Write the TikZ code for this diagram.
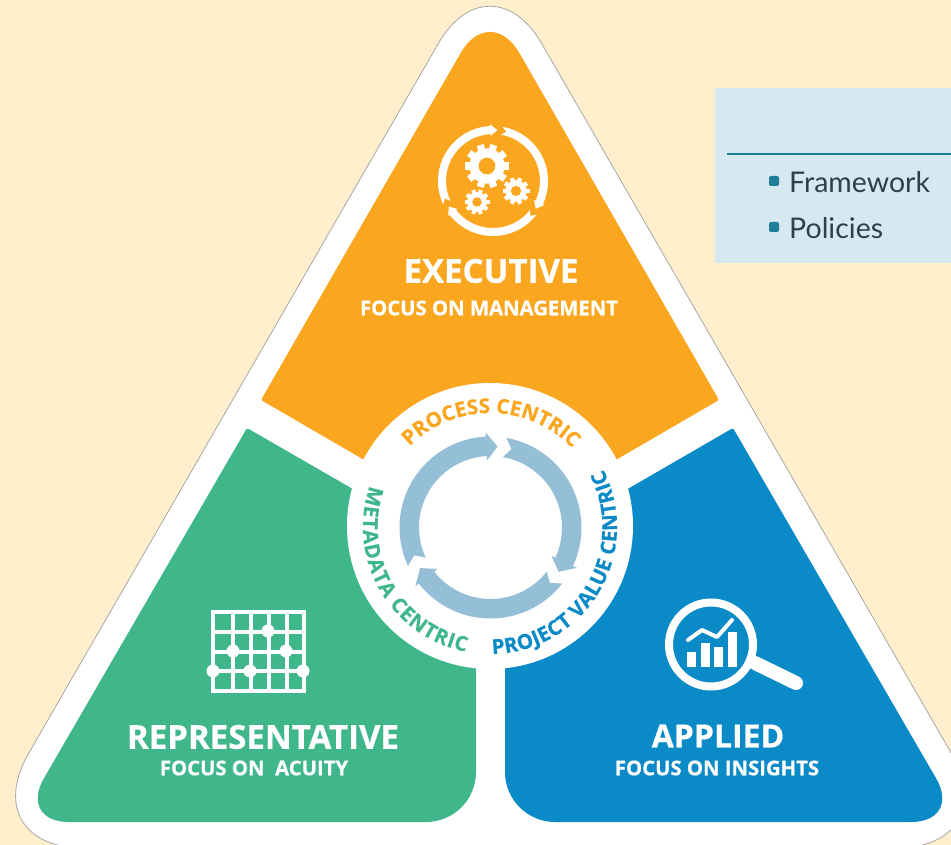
\documentclass[tikz,border=0pt]{standalone}
\usepackage{fontspec}
\setmainfont{Open Sans}[BoldFeatures={FakeBold=0.5}]
\newfontfamily\panelfont{Lato}
\usetikzlibrary{decorations.text}

\definecolor{paper}{HTML}{FFEFCC}
\definecolor{execcol}{HTML}{FBA61F}
\definecolor{reprcol}{HTML}{40B68B}
\definecolor{applcol}{HTML}{0A8AC6}
\definecolor{ringcol}{HTML}{95BFD6}
\definecolor{panelcol}{HTML}{D6E8F0}
\definecolor{rulecol}{HTML}{1F7F9A}
\definecolor{inkcol}{HTML}{2F404C}

\tikzset{
  titletext/.style={text=white,font=\bfseries\fontsize{#1}{#1}\selectfont,inner sep=0pt},
  itemtext/.style={text=inkcol,font=\panelfont\fontsize{28.5}{29}\selectfont,anchor=base west,inner sep=0pt},
  bullet/.style={fill=rulecol,rounded corners=2pt},
  arctext/.style 2 args={decorate,decoration={text along path,text align={fit to path},
    text={|\bfseries\fontsize{20.5}{21}\selectfont\color{#1}|#2}}}
}

% three arrows chasing each other round a circle
\newcommand{\cyclearrows}[5]{
  \begin{scope}[shift={(#1,#2)}]
    \foreach \t/\b in {-85/-205,33/-80,150/38}
      \fill[#5] (\t-8:#3) arc[start angle=\t-8,end angle=\b,radius=#3]
        -- (\b+5:#3/2+#4/2) -- (\b:#4)
        arc[start angle=\b,end angle=\t-8,radius=#4]
        -- (\t-8:#4-0.22*#3+0.22*#4) -- (\t:#3/2+#4/2) -- (\t-8:#3+0.22*#3-0.22*#4) -- cycle;
  \end{scope}
}
\newcommand{\gearicon}[3]{
  \begin{scope}[shift={(#1,#2)}]
    \fill[white] (0,0) circle (0.8*#3);
    \foreach \a in {0,36,...,324}
      \fill[white,rotate=\a] (0.6*#3,-0.16*#3) rectangle (#3,0.16*#3);
    \fill[execcol] (0,0) circle (0.38*#3);
  \end{scope}
}

\begin{document}
\begin{tikzpicture}[x=1pt,y=-1pt]
  \useasboundingbox (0,0) rectangle (951,845);
  \fill[paper] (0,0) rectangle (951,845);

  % outer white triangle
  \draw[fill=white,draw=black!35,line width=0.8pt,rounded corners=109pt]
    (-26,848) -- (1006,848) [rounded corners=103pt] -- (490,-46) [rounded corners=109pt] -- cycle;

  % the three sectors
  \fill[execcol] (490,533) [rounded corners=2pt] -- (261,400) [rounded corners=59pt] -- (490,2)
    [rounded corners=2pt] -- (719,400) [sharp corners] -- cycle;
  \fill[reprcol] (476,560) [rounded corners=2pt] -- (247,428) [rounded corners=50pt] -- (18.6,822)
    -- (476,822) [sharp corners] -- cycle;
  \fill[applcol] (505,560) [rounded corners=2pt] -- (733,428) [rounded corners=50pt] -- (961.4,822)
    -- (505,822) [sharp corners] -- cycle;

  % hub
  \fill[white] (490,526) circle (143);
  \cyclearrows{490.5}{527.5}{91}{71.5}{ringcol}
  \path[arctext={execcol}{PROCESS CENTRIC}] (490,527) ++(-135:114) arc[start angle=-135,end angle=-44,radius=114];
  \path[arctext={reprcol}{METADATA CENTRIC}] (490,527) ++(-161:127) arc[start angle=-161,end angle=-259,radius=127];
  \path[arctext={applcol}{PROJECT VALUE CENTRIC}] (490,527) ++(89:127) arc[start angle=89,end angle=-27,radius=127];

  % executive icon and labels
  \cyclearrows{493}{181}{55}{47}{white}
  \gearicon{487}{166}{22}
  \gearicon{516}{191}{13.5}
  \gearicon{477}{202}{12.5}
  \node[titletext=33] (exectitle) at (491,271) {EXECUTIVE};
  \node[titletext=20.3] (execsub) at (489,308) {FOCUS ON MANAGEMENT};

  % representative icon and labels
  \draw[white,line width=4pt] (213,612) rectangle (304,691);
  \foreach \x in {233,251,269,287}
    \draw[white,line width=4pt] (\x,612) -- (\x,691);
  \foreach \y in {632,652,671}
    \draw[white,line width=4pt] (213,\y) -- (304,\y);
  \foreach \x/\y in {268/631,233/651,286/651,213/671,250/671,303/671}
    \fill[white] (\x,\y) circle (6.5);
  \node[titletext=33] (reprtitle) at (263,737) {REPRESENTATIVE};
  \node[titletext=20.3] (reprsub) at (254,768) {FOCUS ON\ \ ACUITY};

  % applied icon and labels
  \draw[white,line width=8pt] (711,644.5) circle (42);
  \draw[white,line width=14pt,line cap=round] (755,663) -- (796,683);
  \foreach \x/\y in {687/652,701/643,714/647,728/632}
    \fill[white] (\x,\y) rectangle (\x+9,667);
  \draw[white,line width=4pt,line cap=round,line join=round] (688,640) -- (702,630) -- (717,637) -- (732,620);
  \node[titletext=32] (appltitle) at (718,736) {APPLIED};
  \node[titletext=20.3] (applsub) at (717,768) {FOCUS ON INSIGHTS};

  % side panel, cut by the page edge
  \fill[panelcol] (715,88) rectangle (951,263);
  \draw[rulecol,line width=2.5pt] (727,154) -- (951,154);
  \fill[bullet] (769,176) rectangle (779,186);
  \fill[bullet] (769,222) rectangle (779,232);
  \node[itemtext] (item1) at (789,193) {Framework};
  \node[itemtext] (item2) at (789,239) {Policies};
\end{tikzpicture}
\end{document}
